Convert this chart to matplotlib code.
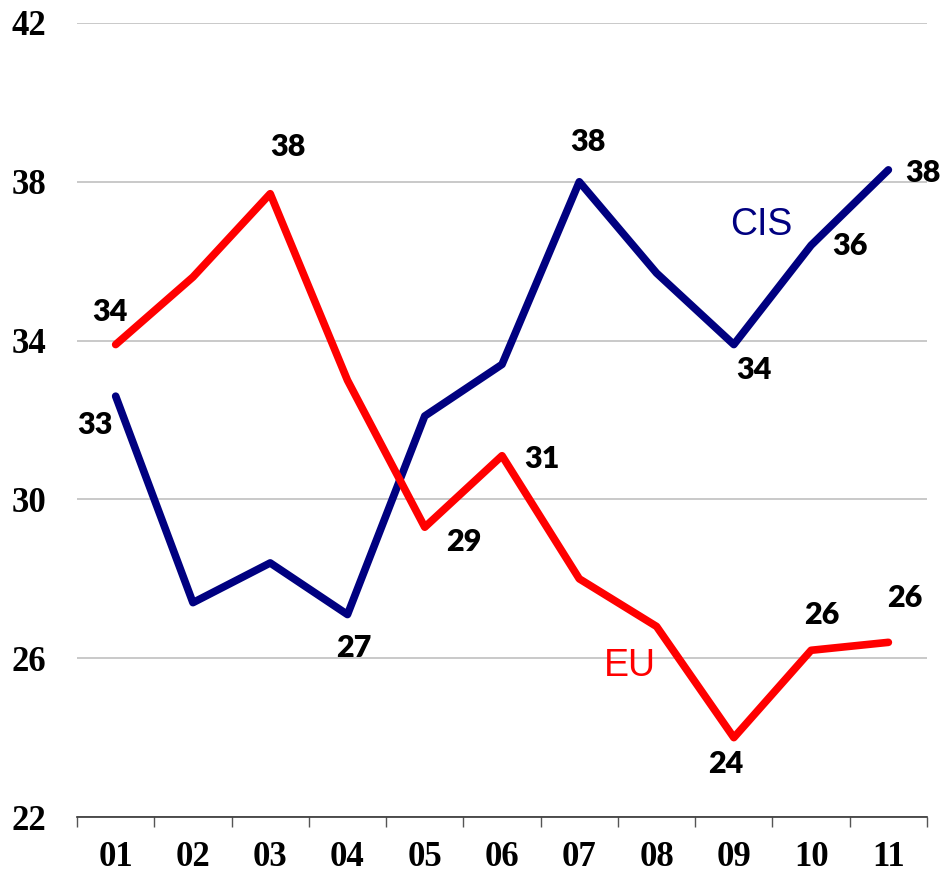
import matplotlib
matplotlib.use("Agg")
import matplotlib.pyplot as plt
import numpy as np

categories = ["01", "02", "03", "04", "05", "06", "07", "08", "09", "10", "11"]
cis = [32.6, 27.4, 28.4, 27.1, 32.1, 33.4, 38.0, 35.7, 33.9, 36.4, 38.3]
eu = [33.9, 35.6, 37.7, 33.0, 29.3, 31.1, 28.0, 26.8, 24.0, 26.2, 26.4]
yticks = [22, 26, 30, 34, 38, 42]

# label offsets in pixels (index: (dx, dy))
cis_labels = {0: (-21, -29), 3: (6, -33), 6: (9, 40), 8: (20, -25), 9: (39, -1), 10: (35, -3)}
eu_labels = {0: (-6, 33), 2: (18, 47), 4: (39, -15), 5: (40, -3), 8: (-8, -26), 9: (11, 35), 10: (16, 44)}

fig = plt.figure(figsize=(9.44, 8.73), dpi=100)
ax = fig.add_axes([0.0816, 0.0641, 0.9004, 0.9096])

x = np.arange(len(categories))
ax.plot(x, cis, color="#000080", lw=5.5, solid_joinstyle="round", solid_capstyle="round", zorder=3)
ax.plot(x, eu, color="#ff0000", lw=5.5, solid_joinstyle="round", solid_capstyle="round", zorder=3)

lab_font = dict(family=["Lato", "DejaVu Sans"], fontweight="heavy", fontsize=22, color="black")
for i, (dx, dy) in cis_labels.items():
    ax.annotate(f"{cis[i]:.0f}", (x[i], cis[i]), xytext=(dx, dy), textcoords="offset pixels",
                ha="center", va="center", **lab_font)
for i, (dx, dy) in eu_labels.items():
    ax.annotate(f"{eu[i]:.0f}", (x[i], eu[i]), xytext=(dx, dy), textcoords="offset pixels",
                ha="center", va="center", **lab_font)

ax.text(8.35, 36.9, "CIS", color="#000080", fontsize=27, family="Liberation Sans", ha="center", va="center")
ax.text(6.65, 25.8, "EU", color="#ff0000", fontsize=27, family="Liberation Sans", ha="center", va="center")

ax.set_xlim(-0.5, len(categories) - 0.5)
ax.set_ylim(22, 42)
ax.set_yticks(yticks)
ax.set_yticklabels([str(t) for t in yticks], family="Liberation Serif", fontweight="bold", fontsize=25)
ax.tick_params(axis="y", length=0, pad=22)

ax.set_xticks(np.arange(-0.5, len(categories)), labels=[""] * (len(categories) + 1))
ax.tick_params(axis="x", which="major", length=7, width=1, color="#555555", direction="out")
ax.set_xticks(x, minor=True)
ax.set_xticklabels(categories, minor=True, family="Liberation Serif", fontweight="bold", fontsize=25)
ax.tick_params(axis="x", which="minor", length=0, pad=17)

ax.grid(axis="y", color="#c0c0c0", lw=1.2)
ax.set_axisbelow(True)
for s in ["left", "right", "top"]:
    ax.spines[s].set_visible(False)
ax.spines["bottom"].set_color("#333333")
ax.spines["bottom"].set_linewidth(1.2)

fig.savefig("out.png", dpi=100)
